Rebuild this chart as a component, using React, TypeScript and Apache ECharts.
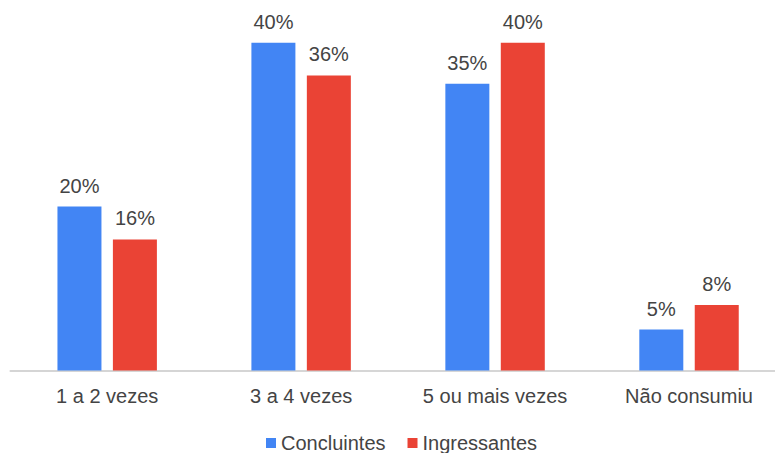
import React, { useEffect, useRef } from "react";
import * as echarts from "echarts";

const categories = ["1 a 2 vezes", "3 a 4 vezes", "5 ou mais vezes", "Não consumiu"];
const concluintes = [20, 40, 35, 5];
const ingressantes = [16, 36, 40, 8];
const seriesNames = ["Concluintes", "Ingressantes"];

export default function App() {
  const ref = useRef<HTMLDivElement>(null);
  useEffect(() => {
    const chart = echarts.init(ref.current!, null, { renderer: "svg" });
    const font = "'Liberation Sans', Arial, sans-serif";
    const label = {
      show: true,
      position: "top" as const,
      distance: 11,
      formatter: "{c}%",
      color: "#444",
      fontSize: 20,
      fontFamily: font,
    };
    chart.setOption({
      animation: false,
      backgroundColor: "#fff",
      grid: { left: 10.2, top: 42.7, right: 0, bottom: 82.5, containLabel: false },
      legend: {
        data: seriesNames,
        left: 261,
        top: 428,
        icon: "rect",
        itemWidth: 10,
        itemHeight: 10,
        itemGap: 22,
        textStyle: { fontSize: 20, color: "#444", fontFamily: font },
      },
      xAxis: {
        type: "category",
        data: categories,
        axisTick: { show: false },
        axisLine: { lineStyle: { color: "#c8c8c8", width: 1.5 } },
        axisLabel: { color: "#444", fontSize: 20, fontFamily: font, margin: 15 },
      },
      yAxis: {
        type: "value",
        min: 0,
        max: 40,
        show: false,
      },
      series: [
        {
          name: seriesNames[0],
          type: "bar",
          data: concluintes,
          barWidth: 44,
          barGap: "26%",
          itemStyle: { color: "#4285F4" },
          label,
        },
        {
          name: seriesNames[1],
          type: "bar",
          data: ingressantes,
          barWidth: 44,
          barGap: "26%",
          itemStyle: { color: "#EA4335" },
          label,
        },
      ],
    });
    return () => chart.dispose();
  }, []);
  return (
    <div
      style={{
        position: "fixed",
        left: 0,
        top: 0,
        width: 775,
        height: 453,
        overflow: "hidden",
        background: "#fff",
      }}
    >
      <div ref={ref} style={{ width: 786, height: 453 }} />
    </div>
  );
}
